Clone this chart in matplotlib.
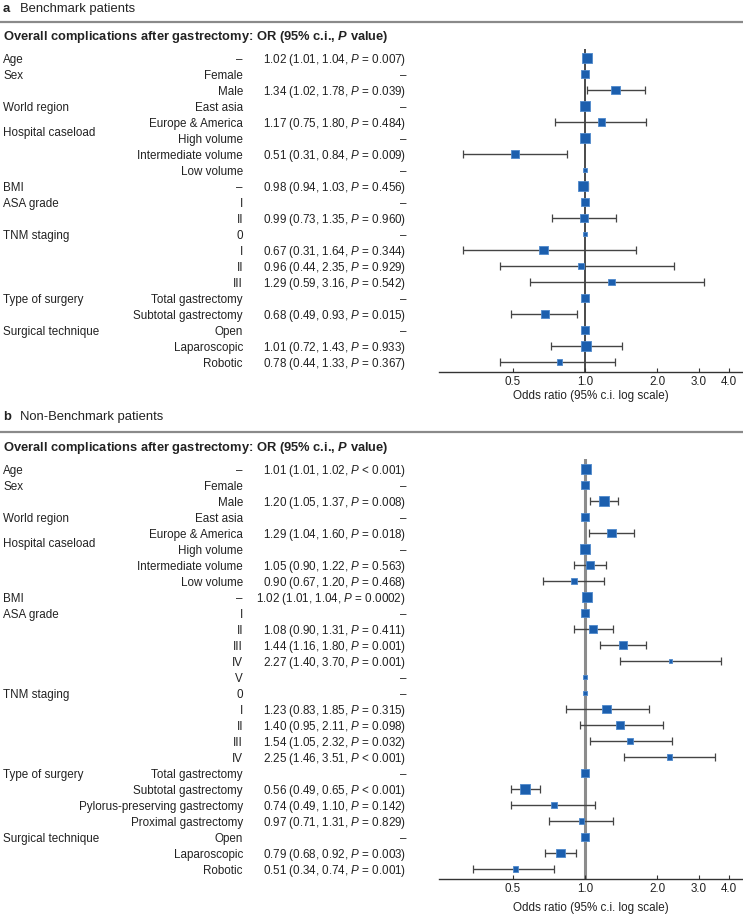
import numpy as np
import matplotlib
matplotlib.use("Agg")
import matplotlib.pyplot as plt
from matplotlib.transforms import blended_transform_factory
from matplotlib import font_manager

names = {f.name for f in font_manager.fontManager.ttflist}
FAM = 'Liberation Sans Narrow' if 'Liberation Sans Narrow' in names else 'Liberation Sans'
NARROW = FAM == 'Liberation Sans Narrow'
SCALE = 1.0 if NARROW else 0.83

plt.rcParams['font.family'] = [FAM, 'DejaVu Sans']
plt.rcParams['mathtext.fontset'] = 'custom'
plt.rcParams['mathtext.rm'] = FAM
plt.rcParams['mathtext.it'] = FAM + ':italic'
plt.rcParams['mathtext.bf'] = FAM + ':bold'
HAS_BFIT = 'mathtext.bfit' in plt.rcParams
if HAS_BFIT:
    plt.rcParams['mathtext.bfit'] = FAM + ':italic:bold'

nan = np.nan

# ---------------- Panel a: Benchmark patients ----------------
a_levels = ['–', 'Female', 'Male', 'East asia', 'Europe & America', 'High volume',
            'Intermediate volume', 'Low volume', '–', 'I', 'II', '0', 'I', 'II', 'III',
            'Total gastrectomy', 'Subtotal gastrectomy', 'Open', 'Laparoscopic', 'Robotic']
a_groups = ['Age', 'Sex', 'World region', 'Hospital caseload', 'BMI', 'ASA grade',
            'TNM staging', 'Type of surgery', 'Surgical technique']
a_group_rows = [0, 1, 3, 4.6, 8, 9, 11, 15, 17]
a_or = [1.02, 1.00, 1.34, 1.00, 1.17, 1.00, 0.51, 1.00, 0.98, 1.00, 0.99, 1.00,
        0.67, 0.96, 1.29, 1.00, 0.68, 1.00, 1.01, 0.78]
a_lo = [1.01, nan, 1.02, nan, 0.75, nan, 0.31, nan, 0.94, nan, 0.73, nan,
        0.31, 0.44, 0.59, nan, 0.49, nan, 0.72, 0.44]
a_hi = [1.04, nan, 1.78, nan, 1.80, nan, 0.84, nan, 1.03, nan, 1.35, nan,
        1.64, 2.35, 3.16, nan, 0.93, nan, 1.43, 1.33]
a_p = ['= 0.007', '', '= 0.039', '', '= 0.484', '', '= 0.009', '', '= 0.456', '',
       '= 0.960', '', '= 0.344', '= 0.929', '= 0.542', '', '= 0.015', '', '= 0.933', '= 0.367']
a_weight = [10, 7, 8, 10, 7, 10, 7, 3, 10, 8, 7, 3, 8, 6, 6, 7, 8, 7, 9, 5]

# ---------------- Panel b: Non-Benchmark patients ----------------
b_levels = ['–', 'Female', 'Male', 'East asia', 'Europe & America', 'High volume',
            'Intermediate volume', 'Low volume', '–', 'I', 'II', 'III', 'IV', 'V',
            '0', 'I', 'II', 'III', 'IV', 'Total gastrectomy', 'Subtotal gastrectomy',
            'Pylorus-preserving gastrectomy', 'Proximal gastrectomy', 'Open',
            'Laparoscopic', 'Robotic']
b_groups = ['Age', 'Sex', 'World region', 'Hospital caseload', 'BMI', 'ASA grade',
            'TNM staging', 'Type of surgery', 'Surgical technique']
b_group_rows = [0, 1, 3, 4.6, 8, 9, 14, 19, 23]
b_or = [1.01, 1.00, 1.20, 1.00, 1.29, 1.00, 1.05, 0.90, 1.02, 1.00, 1.08, 1.44, 2.27,
        1.00, 1.00, 1.23, 1.40, 1.54, 2.25, 1.00, 0.56, 0.74, 0.97, 1.00, 0.79, 0.51]
b_lo = [1.01, nan, 1.05, nan, 1.04, nan, 0.90, 0.67, 1.01, nan, 0.90, 1.16, 1.40,
        nan, nan, 0.83, 0.95, 1.05, 1.46, nan, 0.49, 0.49, 0.71, nan, 0.68, 0.34]
b_hi = [1.02, nan, 1.37, nan, 1.60, nan, 1.22, 1.20, 1.04, nan, 1.31, 1.80, 3.70,
        nan, nan, 1.85, 2.11, 2.32, 3.51, nan, 0.65, 1.10, 1.31, nan, 0.92, 0.74]
b_p = ['< 0.001', '', '= 0.008', '', '= 0.018', '', '= 0.563', '= 0.468', '= 0.0002',
       '', '= 0.411', '= 0.001', '= 0.001', '', '', '= 0.315', '= 0.098', '= 0.032',
       '< 0.001', '', '< 0.001', '= 0.142', '= 0.829', '', '= 0.003', '= 0.001']
b_weight = [10, 7, 9, 8, 8, 9, 7, 5, 10, 7, 7, 7, 3, 3, 4, 8, 7, 6, 5, 8, 9, 6, 5, 8, 8, 5]

ticks = [0.5, 1.0, 2.0, 3.0, 4.0]
tick_labels = ['0.5', '1.0', '2.0', '3.0', '4.0']

W, H = 743, 914
fig = plt.figure(figsize=(W / 100, H / 100), dpi=100)
bg = fig.add_axes([0, 0, 1, 1])
bg.set_xlim(0, W)
bg.set_ylim(H, 0)
bg.axis('off')

TXT = '#222222'
FS = 10.1 * SCALE
MK_FACE = '#1c5fae'
MK_EDGE = '#4f89cc'

if HAS_BFIT:
    title_str = r'Overall complications after gastrectomy: OR (95% c.i., $\mathbfit{P}$ value)'
else:
    title_str = r'Overall complications after gastrectomy: OR (95% c.i., $\mathbf{P}$ value)'


def panel(letter, name, head_y, line_y, title_y, ax_top, ax_bot, first_row_y,
          levels, groups, group_rows, ors, los, his, ps, weights, vline_color, vline_lw,
          xlabelpad):
    n = len(levels)
    # header
    bg.text(3, head_y, letter, fontsize=11.3 * SCALE, fontweight='bold', color=TXT, va='center')
    bg.text(20, head_y, name, fontsize=11.3 * SCALE, color=TXT, va='center')
    bg.plot([0, W], [line_y, line_y], color='#8a8a8a', lw=1.6, solid_capstyle='butt')
    bg.text(3, title_y, title_str, fontsize=11.2 * SCALE, fontweight='bold', color=TXT,
            va='center')

    x0 = 439
    ax = fig.add_axes([x0 / W, 1 - ax_bot / H, (W - x0) / W, (ax_bot - ax_top) / H])
    ax.set_xscale('log')
    ax.set_xlim(0.245, 4.58)
    top_row = (ax_top - first_row_y) / 16.0
    bot_row = (ax_bot - first_row_y) / 16.0
    ax.set_ylim(bot_row, top_row)
    ax.patch.set_alpha(0)
    for s in ['top', 'left', 'right']:
        ax.spines[s].set_visible(False)
    ax.spines['bottom'].set_color('#333333')
    ax.spines['bottom'].set_linewidth(1.0)
    ax.set_yticks([])
    ax.set_xticks(ticks)
    ax.set_xticklabels(tick_labels)
    ax.minorticks_off()
    ax.tick_params(axis='x', direction='in', length=3, width=0.8, color='#333333',
                   labelsize=FS, labelcolor=TXT, pad=3)
    ax.set_xlabel('Odds ratio (95% c.i. log scale)', fontsize=FS, color=TXT,
                  labelpad=xlabelpad)
    ax.axvline(1.0, color=vline_color, lw=vline_lw, zorder=1)

    rows = np.arange(n)
    ors_a = np.array(ors)
    los_a = np.array(los)
    his_a = np.array(his)
    m = ~np.isnan(los_a)
    ax.errorbar(ors_a[m], rows[m], xerr=[ors_a[m] - los_a[m], his_a[m] - ors_a[m]],
                fmt='none', ecolor='#444444', elinewidth=1.0, capsize=2.6, capthick=0.9,
                zorder=2)
    sizes = (np.array(weights) * 0.75) ** 2
    ax.scatter(ors_a, rows, s=sizes, marker='s', facecolor=MK_FACE, edgecolor=MK_EDGE,
               linewidths=0.6, zorder=3)

    tr = blended_transform_factory(bg.transData, ax.transData)
    off = 0.3
    for g, r in zip(groups, group_rows):
        bg.text(3, r + off, g, transform=tr, fontsize=FS, color=TXT, va='baseline', ha='left')
    for i in range(n):
        bg.text(243, i + off, levels[i], transform=tr, fontsize=FS, color=TXT,
                va='baseline', ha='right')
        if ps[i]:
            s = f'{ors[i]:.2f} ({los[i]:.2f}, {his[i]:.2f}, $P$ {ps[i]})'
        else:
            s = '–'
        bg.text(406, i + off, s, transform=tr, fontsize=FS, color=TXT,
                va='baseline', ha='right')
    return ax


panel('a', 'Benchmark patients', 9, 22, 37, 49, 372, 58,
      a_levels, a_groups, a_group_rows, a_or, a_lo, a_hi, a_p, a_weight, '#2b2b2b', 1.2, 1.5)
panel('b', 'Non-Benchmark patients', 417, 432, 448, 459, 879, 469,
      b_levels, b_groups, b_group_rows, b_or, b_lo, b_hi, b_p, b_weight, '#8c8c8c', 2.2, 5)

fig.savefig('out.png', dpi=100)
